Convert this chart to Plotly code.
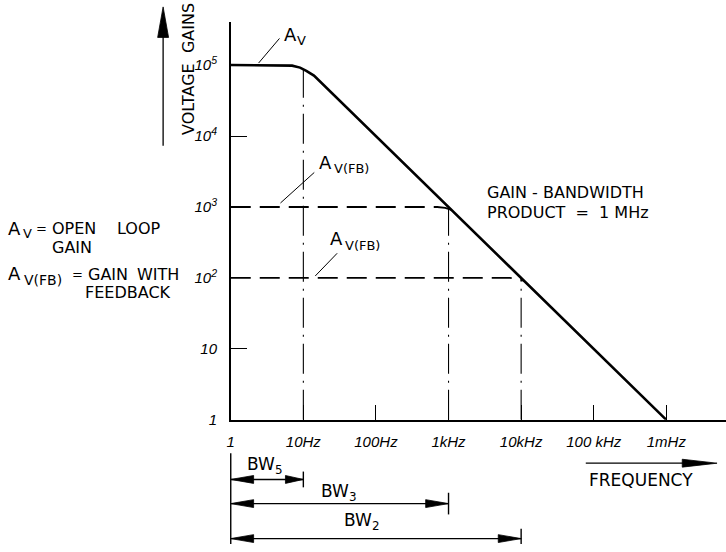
import plotly.graph_objects as go

W, H = 726, 552

# Open-loop voltage gain A_V against frequency (Hz)
open_freq = [1, 5, 7, 9, 11, 14, 1e6]
open_gain = [1e5, 1e5, 9.8e4, 9.2e4, 8.3e4, 7.1e4, 1]

# Closed-loop gains A_V(FB), flat until they meet the open-loop roll-off
fb_freq = [[1, 700, 900, 1100], [1, 7000, 9000, 11000]]
fb_gain = [[1e3, 1e3, 970, 910], [100, 100, 97, 91]]

# Bandwidths: corner frequency and the gain where each corner sits
bw_names = ["BW<sub>5</sub>", "BW<sub>3</sub>", "BW<sub>2</sub>"]
bw_freq = [10, 1e3, 1e4]
bw_top_gain = [8.5e4, 1e3, 1e2]

x_tickvals = [1, 10, 100, 1e3, 1e4, 1e5, 1e6]
x_ticktext = ["1", "10Hz", "100Hz", "1kHz", "10kHz", "100 kHz", "1mHz"]
y_tickvals = [1, 10, 100, 1e3, 1e4, 1e5]
y_ticktext = ["1", "10", "10<sup>2</sup>", "10<sup>3</sup>", "10<sup>4</sup>", "10<sup>5</sup>"]

# plot frame in pixels and pixels per decade on each axis
X_LEFT, X_RIGHT, Y_BOTTOM, Y_TOP = 228, 726, 426, 22
DEC_X, DEC_Y = 73, 72


def px(x):
    return x / W


def py(y):
    return 1 - y / H


INK = "black"
TXT = "DejaVu Sans"

fig = go.Figure()

fig.add_trace(go.Scatter(x=open_freq, y=open_gain, mode="lines",
                         line=dict(color=INK, width=2.6), hoverinfo="skip"))

for fx, fy in zip(fb_freq, fb_gain):
    fig.add_trace(go.Scatter(x=fx, y=fy, mode="lines",
                             line=dict(color=INK, width=1.9, dash="20px,9px"),
                             hoverinfo="skip"))

for f, g in zip(bw_freq, bw_top_gain):
    fig.add_trace(go.Scatter(x=[f, f], y=[1, g], mode="lines",
                             line=dict(color=INK, width=1.1, dash="30px,7px,2px,7px"),
                             hoverinfo="skip"))

shapes = []
annotations = []


def line(x0, y0, x1, y1, w=1.0, xref="paper", yref="paper"):
    shapes.append(dict(type="line", xref=xref, yref=yref, x0=x0, y0=y0, x1=x1, y1=y1,
                       line=dict(color=INK, width=w)))


def head(path, xref="paper", yref="paper"):
    shapes.append(dict(type="path", xref=xref, yref=yref, path=path,
                       fillcolor=INK, line=dict(color=INK, width=0.8)))


def text(s, x, y, size=16, anchor="left", angle=0, family=TXT):
    if anchor == "left":
        x -= 2
    annotations.append(dict(text=s, x=px(x), y=py(y), xref="paper", yref="paper",
                            xanchor=anchor, yanchor="middle", showarrow=False,
                            borderpad=0, textangle=angle,
                            font=dict(family=family, size=size, color=INK)))


def symbol(main, subscript, x, y, sx, sy, size=18, subsize=13):
    """A letter with a full-size subscript placed as its own text."""
    text(main, x, y, size=size)
    text(subscript, sx, sy, size=subsize)


# label leaders
line(px(256), py(64), px(277), py(39))
line(px(278), py(206), px(312), py(175))
line(px(313), py(280), px(335), py(257))

symbol("A", "V", 283, 35.5, 296, 41)
symbol("A", "V(FB)", 318, 164.5, 333, 171)
symbol("A", "V(FB)", 329, 241.5, 344, 249)

text("GAIN - BANDWIDTH", 487, 195)
text("PRODUCT\u00a0\u00a0=\u00a0\u00a01\u00a0MHz", 487, 216)

# legend of symbols on the left
symbol("A", "V", 5, 232, 20, 237, size=18, subsize=13)
symbol("A", "V(FB)", 5, 278, 21, 284, size=18, subsize=14)
for s, x, y, sz in [("=", 33, 232, 13), ("OPEN", 49, 232, 16), ("LOOP", 115, 232, 16),
                    ("GAIN", 49, 251, 16),
                    ("=", 69, 279, 13), ("GAIN", 85, 279, 16), ("WITH", 135, 279, 16),
                    ("FEEDBACK", 82, 297, 16)]:
    text(s, x, y, size=sz)

# vertical axis title with arrow
text("VOLTAGE\u00a0\u00a0GAINS", 186, 70, angle=-90, anchor="center")
line(px(160), py(148), px(160), py(36), w=1.3)
head(f"M{px(160)},{py(7)} L{px(154.5)},{py(38)} L{px(165.5)},{py(38)} Z")

# frequency arrow
text("FREQUENCY", 641, 487, size=17, anchor="center")
line(px(585), py(470), px(690), py(470), w=1.3)
head(f"M{px(717)},{py(470)} L{px(682)},{py(466)} L{px(682)},{py(474)} Z")

# bandwidth arrows measured from 1 Hz
bw_rows = [486.5, 511, 546.5]
bw_bar = [8, 11, 10]
bw_label = [(245, 472), (320, 500), (343, 529)]
head_fac = 10 ** (23 / DEC_X)
line(px(X_LEFT), py(460), px(X_LEFT), py(552), w=1.4)
for name, f, yy, bar, (lx, ly) in zip(bw_names, bw_freq, bw_rows, bw_bar, bw_label):
    line(1, py(yy), f, py(yy), w=1.4, xref="x")
    line(f, py(yy - bar), f, py(min(yy + bar, 552)), w=1.4, xref="x")
    hl = head_fac if f > 10 else 10 ** (18 / DEC_X)
    head(f"M1,{py(yy)} L{head_fac},{py(yy - 4)} L{head_fac},{py(yy + 4)} Z", xref="x")
    head(f"M{f},{py(yy)} L{f / hl},{py(yy - 4)} L{f / hl},{py(yy + 4)} Z", xref="x")
    text(name, lx, ly, size=17)

tickfont = dict(family="Liberation Sans", size=15, style="italic", color=INK)

fig.update_layout(
    width=W, height=H,
    margin=dict(l=0, r=0, t=0, b=0, pad=0),
    paper_bgcolor="white", plot_bgcolor="white",
    showlegend=False,
    shapes=shapes, annotations=annotations,
    xaxis=dict(type="log", domain=[px(X_LEFT), 1], range=[0, (X_RIGHT - X_LEFT) / DEC_X],
               showline=True, linecolor=INK, linewidth=1.5, showgrid=False, zeroline=False,
               ticks="inside", ticklen=15, tickwidth=1.2, tickcolor=INK,
               tickvals=x_tickvals, ticktext=x_ticktext, tickfont=tickfont,
               ticklabelstandoff=7),
    yaxis=dict(type="log", domain=[py(Y_BOTTOM), py(Y_TOP)], range=[0, (Y_BOTTOM - Y_TOP) / DEC_Y],
               showline=True, linecolor=INK, linewidth=1.5, showgrid=False, zeroline=False,
               ticks="inside", ticklen=17, tickwidth=1.2, tickcolor=INK,
               tickvals=y_tickvals, ticktext=y_ticktext, tickfont=tickfont,
               ticklabelstandoff=9),
)

fig.write_html("out.html")
